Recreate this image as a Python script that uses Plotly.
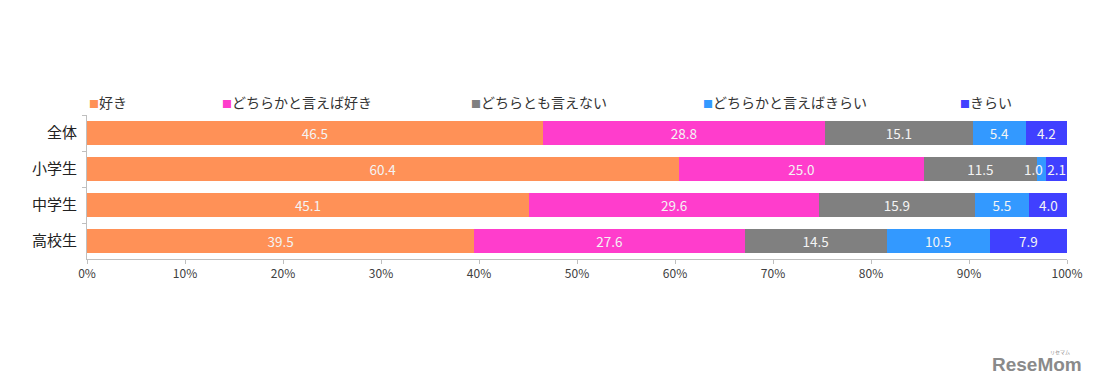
import plotly.graph_objects as go

categories = ["全体", "小学生", "中学生", "高校生"]
series_names = ["好き", "どちらかと言えば好き", "どちらとも言えない", "どちらかと言えばきらい", "きらい"]
like = [46.5, 60.4, 45.1, 39.5]
rather_like = [28.8, 25.0, 29.6, 27.6]
neutral = [15.1, 11.5, 15.9, 14.5]
rather_dislike = [5.4, 1.0, 5.5, 10.5]
dislike = [4.2, 2.1, 4.0, 7.9]
tick_vals = [0, 10, 20, 30, 40, 50, 60, 70, 80, 90, 100]
tick_text = ["0%", "10%", "20%", "30%", "40%", "50%", "60%", "70%", "80%", "90%", "100%"]

colors = ["#FF9157", "#FF3DCC", "#808080", "#3399FF", "#4040FF"]
values = [like, rather_like, neutral, rather_dislike, dislike]

FONT = "Noto Sans CJK JP"
LABEL_COLOR = "#F4F4F4"

W, H = 1100, 388
L, R, T, B = 87, 33, 115, 128.5
plot_w = W - L - R
plot_h = H - T - B


def px_x(px):
    return (px - L) / plot_w


def px_y(py):
    return (H - B - py) / plot_h


fig = go.Figure()
small_points = []
for name, vals, col in zip(series_names, values, colors):
    # labels too wide for their segment are drawn separately as annotations
    templates = []
    for i, v in enumerate(vals):
        if v < 2.0:
            templates.append("")
            small_points.append((i, name))
        else:
            templates.append("%{x:.1f}")
    fig.add_trace(go.Bar(
        y=categories, x=vals, name=name, orientation="h",
        marker=dict(color=col, line=dict(width=0)),
        texttemplate=templates, textposition="inside", textangle=0,
        insidetextanchor="middle",
        textfont=dict(color=LABEL_COLOR, size=13.5, family=FONT),
        showlegend=False, hoverinfo="skip",
    ))

# annotations for labels of narrow segments (position from data)
for i, name in small_points:
    k = series_names.index(name)
    start = sum(values[j][i] for j in range(k))
    v = values[k][i]
    fig.add_annotation(
        x=start + v / 2, y=categories[i], xref="x", yref="y",
        text=f"{v:.1f}", showarrow=False, xshift=-8,
        font=dict(color=LABEL_COLOR, size=13.5, family=FONT),
    )

# legend drawn as text annotations (square glyph + label)
legend_x = [87, 220, 469, 701, 958]
for name, col, px in zip(series_names, colors, legend_x):
    fig.add_annotation(
        x=px_x(px), y=px_y(102), xref="paper", yref="paper",
        text=f"<span style='color:{col};font-size:10px'>■</span>{name}",
        showarrow=False, xanchor="left", yanchor="middle",
        font=dict(size=14, color="#333333", family=FONT),
    )

fig.add_annotation(
    x=px_x(1084), y=px_y(365), xref="paper", yref="paper", text="<b>ReseMom</b>",
    showarrow=False, xanchor="right", yanchor="middle",
    font=dict(size=19, color="#8A8A8A", family="Liberation Sans"),
)
fig.add_annotation(
    x=px_x(1072), y=px_y(353), xref="paper", yref="paper", text="リセマム",
    showarrow=False, xanchor="right", yanchor="middle",
    font=dict(size=5, color="#8A8A8A", family=FONT),
)

fig.update_layout(
    barmode="stack",
    width=W, height=H,
    margin=dict(l=L, r=R, t=T, b=B, pad=0),
    paper_bgcolor="white", plot_bgcolor="white",
    bargap=0.34,
    font=dict(family=FONT),
    uniformtext=dict(mode="show", minsize=13.5),
)

fig.update_xaxes(
    range=[0, 100], tickvals=tick_vals, ticktext=tick_text,
    showgrid=False, zeroline=False,
    showline=True, linecolor="#BFBFBF", linewidth=1,
    ticks="outside", ticklen=4, tickcolor="#BFBFBF",
    tickfont=dict(size=12, color="#404040", family=FONT),
)
fig.update_yaxes(
    autorange="reversed", showgrid=False,
    showline=True, linecolor="#BFBFBF", linewidth=1,
    ticks="outside", ticklen=4, tickcolor="#BFBFBF", tickson="boundaries",
    tickfont=dict(size=15, color="#222222", family=FONT),
    ticklabelstandoff=6,
)

fig.write_html("out.html", config={"displayModeBar": False},
               post_script="document.body.style.margin='0';")
